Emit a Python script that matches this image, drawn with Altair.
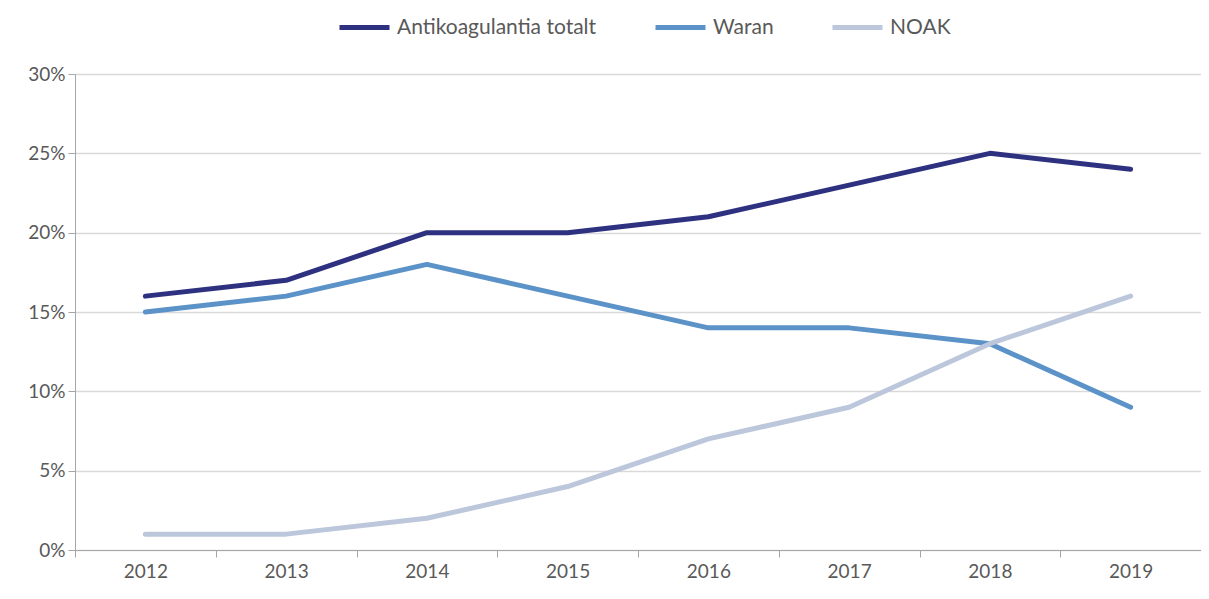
import altair as alt
import pandas as pd

years = ["2012", "2013", "2014", "2015", "2016", "2017", "2018", "2019"]
series_names = ["Antikoagulantia totalt", "Waran", "NOAK"]
antikoagulantia = [0.16, 0.17, 0.20, 0.20, 0.21, 0.23, 0.25, 0.24]
waran = [0.15, 0.16, 0.18, 0.16, 0.14, 0.14, 0.13, 0.09]
noak = [0.01, 0.01, 0.02, 0.04, 0.07, 0.09, 0.13, 0.16]
colors = ["#2e3180", "#5b93c8", "#bcc7dc"]

rows = []
for name, vals in zip(series_names, [antikoagulantia, waran, noak]):
    for y, v in zip(years, vals):
        rows.append({"year": y, "series": name, "value": v})
df = pd.DataFrame(rows)

FONT = "Lato"
GREY = "#595959"

chart = alt.Chart(df).mark_line(strokeWidth=5, strokeCap="round", strokeJoin="round").encode(
    x=alt.X("year:O", sort=years,
            scale=alt.Scale(type="band", paddingInner=0, paddingOuter=0),
            axis=alt.Axis(title=None, labelAngle=0, tickBand="extent", grid=False,
                          domainColor="#a6a6a6", tickColor="#a6a6a6", tickSize=7,
                          labelFont=FONT, labelFontSize=19, labelColor=GREY,
                          labelPadding=5)),
    y=alt.Y("value:Q", scale=alt.Scale(domain=[0, 0.30], nice=False),
            axis=alt.Axis(title=None, format=".0%", values=[0, 0.05, 0.10, 0.15, 0.20, 0.25, 0.30],
                          domainColor="#a6a6a6", tickColor="#a6a6a6", tickSize=7,
                          gridColor="#d9d9d9", gridWidth=1.5,
                          labelFont=FONT, labelFontSize=19, labelColor=GREY,
                          labelPadding=3)),
    color=alt.Color("series:N", sort=series_names,
                    scale=alt.Scale(domain=series_names, range=colors),
                    legend=alt.Legend(title=None, orient="none", direction="horizontal",
                                      legendX=262, legendY=-74, gridAlign="none",
                                      symbolType="stroke", symbolSize=2500, symbolStrokeWidth=5,
                                      labelFont=FONT, labelFontSize=21, labelColor=GREY,
                                      labelLimit=400,
                                      labelOffset=5, columnPadding=48)),
    order=alt.Order("year:O"),
).properties(
    width=1126, height=476,
    autosize=alt.AutoSizeParams(type="none"),
    padding={"left": 67, "top": 66, "right": 0, "bottom": 41},
).configure_view(stroke=None)

chart.save("out.html", embed_options={"renderer": "svg", "actions": False})
